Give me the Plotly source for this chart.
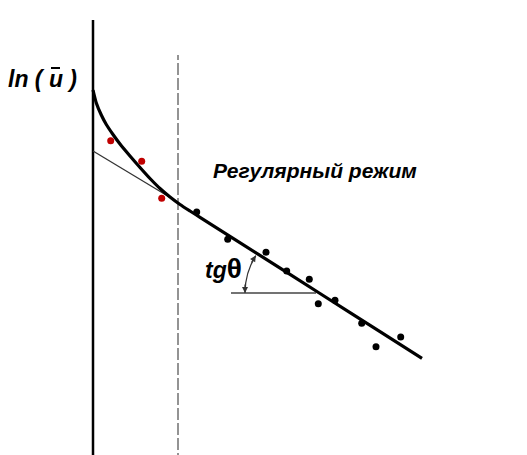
import math
import plotly.graph_objects as go

# ---- data (time t, ln(u) in arbitrary units) ----
curve_t = [0, 3.3, 8.3, 13.3, 20, 27, 37, 47, 57, 67, 77, 87, 97, 107, 167, 227, 287, 329]
curve_lnu = [365, 352, 340, 330.5, 320.5, 311, 299, 287.5, 276.5, 266.5, 258, 250.5, 244,
             237.7, 199.6, 161.5, 123.4, 96.7]

red_t = [17.7, 48.7, 68.7]
red_lnu = [314.3, 293.7, 256.7]

black_t = [103.7, 134.7, 173, 193.7, 216.3, 225.3, 242, 268.7, 283, 307.7]
black_lnu = [243, 215.7, 202.7, 184, 175.7, 151.3, 154.7, 131.7, 108.3, 118]

tangent_t = [0, 83]
tangent_lnu = [304, 254]

regime_start_t = 85
horiz_t = [138, 223]
horiz_lnu = [162, 162]

FONT = "Liberation Sans"

fig = go.Figure()

# vertical axis
fig.add_trace(go.Scatter(x=[0, 0], y=[-10, 435], mode="lines",
                         line=dict(color="black", width=2.5), hoverinfo="skip"))
# dashed boundary of regular regime
fig.add_trace(go.Scatter(x=[regime_start_t, regime_start_t], y=[-10, 400], mode="lines",
                         line=dict(color="#707070", width=1.5, dash="12px,3px"), hoverinfo="skip"))
# tangent (extrapolated straight line)
fig.add_trace(go.Scatter(x=tangent_t, y=tangent_lnu, mode="lines",
                         line=dict(color="#333333", width=1.3), hoverinfo="skip"))
# horizontal line for angle
fig.add_trace(go.Scatter(x=horiz_t, y=horiz_lnu, mode="lines",
                         line=dict(color="#444444", width=1.5), hoverinfo="skip"))
# main curve
fig.add_trace(go.Scatter(x=curve_t, y=curve_lnu, mode="lines",
                         line=dict(color="black", width=3.2, shape="spline", smoothing=0.6),
                         hoverinfo="skip"))
# points
fig.add_trace(go.Scatter(x=red_t, y=red_lnu, mode="markers",
                         marker=dict(color="#c00000", size=7), hoverinfo="skip"))
fig.add_trace(go.Scatter(x=black_t, y=black_lnu, mode="markers",
                         marker=dict(color="black", size=7), hoverinfo="skip"))

# angle arc
cx, cy, r = horiz_t[1] - 1, horiz_lnu[0], 70
a0, a1 = math.radians(180), math.radians(147.7)
p0 = (cx + r * math.cos(a0), cy + r * math.sin(a0))
p2 = (cx + r * math.cos(a1), cy + r * math.sin(a1))
am = (a0 + a1) / 2
rc = r / math.cos((a0 - a1) / 2)
pc = (cx + rc * math.cos(am), cy + rc * math.sin(am))
fig.add_shape(type="path",
              path=f"M {p0[0]},{p0[1]} Q {pc[0]},{pc[1]} {p2[0]},{p2[1]}",
              xref="x", yref="y", line=dict(color="#333333", width=1.2))
# arrowheads
fig.add_annotation(x=p0[0], y=p0[1], ax=p0[0], ay=p0[1] + 10, xref="x", yref="y",
                   axref="x", ayref="y", showarrow=True, arrowhead=2, arrowsize=1,
                   arrowwidth=1.2, arrowcolor="#333333", text="")
tx, ty = math.sin(a1), -math.cos(a1)
fig.add_annotation(x=p2[0], y=p2[1], ax=p2[0] - 10 * tx, ay=p2[1] - 10 * ty, xref="x", yref="y",
                   axref="x", ayref="y", showarrow=True, arrowhead=2, arrowsize=1,
                   arrowwidth=1.2, arrowcolor="#333333", text="")

# texts
fig.add_annotation(x=-50.5, y=376, xref="x", yref="y", showarrow=False,
                   text="<b><i>ln ( u )</i></b>",
                   font=dict(family=FONT, size=23, color="black"))
fig.add_shape(type="line", x0=-42, x1=-33, y0=387, y1=387, xref="x", yref="y",
              line=dict(color="black", width=2))
fig.add_annotation(x=222, y=285, xref="x", yref="y", showarrow=False,
                   text="<b><i>Регулярный режим</i></b>",
                   font=dict(family=FONT, size=21, color="black"))
fig.add_annotation(x=130, y=187, xref="x", yref="y", showarrow=False,
                   text="<b><i>tg</i></b><span style='font-size:28px'><b>θ</b></span>",
                   font=dict(family=FONT, size=23, color="black"))

fig.update_layout(
    width=527, height=455,
    margin=dict(l=0, r=0, t=0, b=0),
    paper_bgcolor="white", plot_bgcolor="white",
    showlegend=False,
    xaxis=dict(range=[-85, 442], visible=False, fixedrange=True),
    yaxis=dict(range=[-8, 447], visible=False, fixedrange=True),
)

fig.write_html("out.html")
